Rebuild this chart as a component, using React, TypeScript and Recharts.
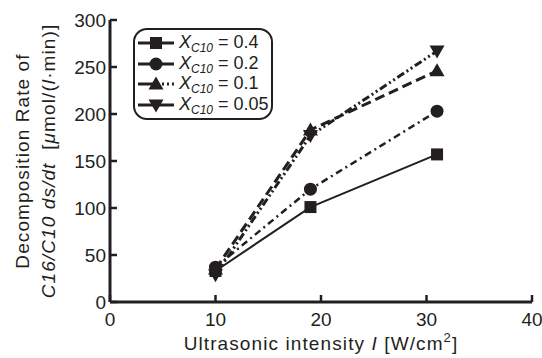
import { LineChart, Line, XAxis, YAxis, Legend, Label } from 'recharts';

// ultrasonic intensity I [W/cm2]
const intensity = [10, 19, 31];
// decomposition rate ds/dt [umol/(l*min)] per X_C10
const rateX04 = [33, 101, 157];
const rateX02 = [37, 120, 203];
const rateX01 = [35, 183, 246];
const rateX005 = [29, 177, 267];

const xTicks = [0, 10, 20, 30, 40];
const xMinorTicks = [0, 5, 10, 15, 20, 25, 30, 35, 40];
const yTicks = [0, 50, 100, 150, 200, 250, 300];
const yMinorTicks = [0, 25, 50, 75, 100, 125, 150, 175, 200, 225, 250, 275, 300];
const legendLabels = ['0.4', '0.2', '0.1', '0.05'];

const chartData = intensity.map((x, i) => ({
  x,
  r04: rateX04[i],
  r02: rateX02[i],
  r01: rateX01[i],
  r005: rateX005[i],
}));

const INK = '#231f20';
const FONT = '"Liberation Sans", Arial, sans-serif';

type Shape = 'square' | 'circle' | 'up' | 'down';

const Marker = ({ cx, cy, shape }: { cx: number; cy: number; shape: Shape }) => {
  if (shape === 'square') return <rect x={cx - 6} y={cy - 6} width={12} height={12} fill={INK} />;
  if (shape === 'circle') return <circle cx={cx} cy={cy} r={6.5} fill={INK} />;
  if (shape === 'up')
    return <polygon points={`${cx},${cy - 7.5} ${cx - 7.5},${cy + 5.5} ${cx + 7.5},${cy + 5.5}`} fill={INK} />;
  return <polygon points={`${cx},${cy + 7.5} ${cx - 7.5},${cy - 5.5} ${cx + 7.5},${cy - 5.5}`} fill={INK} />;
};

const series = [
  { key: 'r04', shape: 'square' as Shape, dash: undefined, width: 2 },
  { key: 'r02', shape: 'circle' as Shape, dash: '7 4 2 4', width: 2.5 },
  { key: 'r01', shape: 'up' as Shape, dash: '10 5', width: 3 },
  { key: 'r005', shape: 'down' as Shape, dash: '8 3 2 3 2 3', width: 3 },
];

const BottomTick = (props: any) => {
  const { x, y, payload } = props;
  return (
    <g>
      <line x1={x} x2={x} y1={y - 11} y2={y - 18} stroke={INK} strokeWidth={2.5} />
      <text x={x} y={y} dy="0.71em" textAnchor="middle" fontSize={19} fill={INK} fontFamily={FONT}>
        {payload.value}
      </text>
    </g>
  );
};

const LeftTick = (props: any) => {
  const { x, y, payload } = props;
  return (
    <g>
      <line x1={x + 4} x2={x + 11} y1={y} y2={y} stroke={INK} strokeWidth={2.5} />
      <text x={x} y={y} dy="0.36em" textAnchor="end" fontSize={19} fill={INK} fontFamily={FONT}>
        {payload.value}
      </text>
    </g>
  );
};

const XTitle = (props: any) => {
  const { x, y, width } = props.viewBox;
  return (
    <text x={x + width / 2} y={y + 48} textAnchor="middle" fontSize={19} letterSpacing={1.1} fill={INK} fontFamily={FONT}>
      Ultrasonic intensity <tspan fontStyle="italic">I</tspan> [W/cm
      <tspan fontSize={13} dy={-8}>2</tspan>
      <tspan dy={8}>]</tspan>
    </text>
  );
};

const YTitle = (props: any) => {
  const { x, y, height } = props.viewBox;
  const cy = y + height / 2;
  return (
    <g fontSize={19} fill={INK} fontFamily={FONT} letterSpacing={1.1}>
      <text x={x + 22} y={cy} textAnchor="middle" dominantBaseline="central" transform={`rotate(-90, ${x + 22}, ${cy})`}>
        Decomposition Rate of
      </text>
      <text x={x + 48} y={cy} textAnchor="middle" dominantBaseline="central" transform={`rotate(-90, ${x + 48}, ${cy})`}>
        <tspan fontStyle="italic">C16/C10 ds/dt</tspan>
        {'\u00a0\u00a0['}
        <tspan fontStyle="italic">μ</tspan>
        {'mol/('}
        <tspan fontStyle="italic">l</tspan>
        {'·min)]'}
      </text>
    </g>
  );
};

const LegendBox = () => (
  <div
    style={{
      border: `2px solid ${INK}`,
      borderRadius: 14,
      width: 133,
      padding: '3px 0 3px 3px',
      fontFamily: FONT,
      color: INK,
      fontSize: 18,
      lineHeight: '20.5px',
      background: '#fff',
    }}
  >
    {series.map((s, i) => (
      <div key={s.key} style={{ display: 'flex', alignItems: 'center', height: 20.5 }}>
        <svg width={36} height={20} style={{ flex: 'none' }}>
          <line x1={0} x2={36} y1={10} y2={10} stroke={INK} strokeWidth={3} strokeDasharray={i === 2 ? '21 3 2 3 2 3' : undefined} />
          <Marker cx={18} cy={10} shape={s.shape} />
        </svg>
        <span style={{ marginLeft: 5, whiteSpace: 'nowrap' }}>
          <i>X</i>
          <i style={{ fontSize: 12, position: 'relative', top: 4 }}>C10</i>
          {' = ' + legendLabels[i]}
        </span>
      </div>
    ))}
  </div>
);

export default function App() {
  return (
    <div style={{ position: 'absolute', left: 0, top: 0, background: '#fff' }}>
      <LineChart width={542} height={358} data={chartData} margin={{ top: 20, right: 10, left: 0, bottom: 0 }}>
        <XAxis
          dataKey="x"
          type="number"
          domain={[0, 40]}
          ticks={xTicks}
          height={56}
          tickSize={0}
          tickMargin={11}
          tickLine={false}
          tick={<BottomTick />}
          axisLine={{ stroke: INK, strokeWidth: 3 }}
        >
          <Label content={XTitle} />
        </XAxis>
        <XAxis
          xAxisId="top"
          orientation="top"
          dataKey="x"
          type="number"
          domain={[0, 40]}
          ticks={xMinorTicks}
          height={0}
          tickSize={3}
          tick={false}
          tickLine={{ stroke: INK, strokeWidth: 1.5 }}
          axisLine={{ stroke: INK, strokeWidth: 3 }}
        />
        <YAxis
          type="number"
          domain={[0, 300]}
          ticks={yTicks}
          width={110}
          tickSize={0}
          tickMargin={4}
          tickLine={false}
          tick={<LeftTick />}
          axisLine={{ stroke: INK, strokeWidth: 3 }}
        >
          <Label content={YTitle} />
        </YAxis>
        <YAxis
          yAxisId="right"
          orientation="right"
          type="number"
          domain={[0, 300]}
          ticks={yMinorTicks}
          width={0}
          tickSize={3}
          tick={false}
          tickLine={{ stroke: INK, strokeWidth: 1.5 }}
          axisLine={{ stroke: INK, strokeWidth: 3 }}
        />
        <Legend
          layout="horizontal"
          verticalAlign="middle"
          align="center"
          wrapperStyle={{ left: 133, top: 28, width: 'auto' }}
          content={<LegendBox />}
        />
        {series.map((s) => (
          <Line
            key={s.key}
            dataKey={s.key}
            stroke={INK}
            strokeWidth={s.width}
            strokeDasharray={s.dash}
            dot={(p: any) => <Marker key={`${s.key}-${p.index}`} cx={p.cx} cy={p.cy} shape={s.shape} />}
            activeDot={false}
            isAnimationActive={false}
          />
        ))}
      </LineChart>
    </div>
  );
}
